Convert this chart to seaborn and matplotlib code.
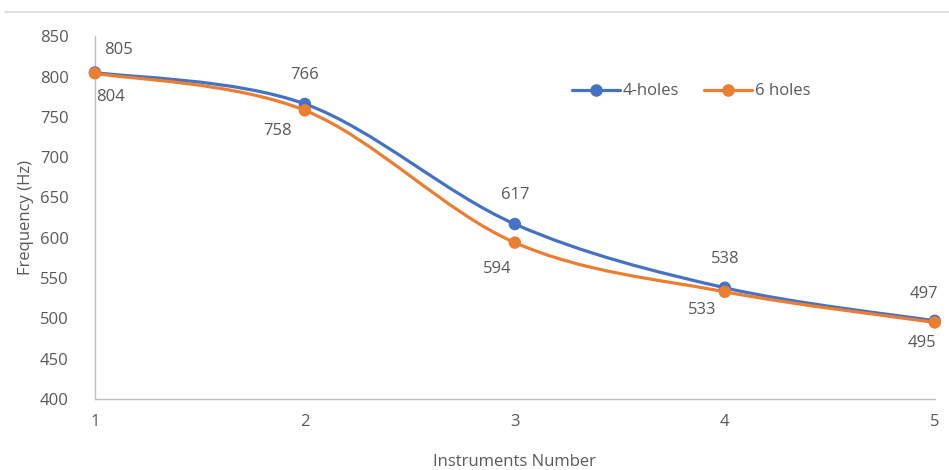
import numpy as np
import pandas as pd
import matplotlib.pyplot as plt
import seaborn as sns
from matplotlib.path import Path
from matplotlib.patches import PathPatch
from matplotlib.lines import Line2D

sns.set_style("white")
plt.rcParams['font.family'] = ['Open Sans', 'DejaVu Sans']

# Data
instruments = [1, 2, 3, 4, 5]
four_holes = [805, 766, 617, 538, 497]
six_holes = [804, 758, 594, 533, 495]

# label offsets (points) for each series
offsets_4 = [(17, 16), (0, 21), (0, 21), (0, 21), (-8, 19)]
offsets_6 = [(11, -17), (-20, -15), (-13, -19), (-16, -13), (-9, -15)]

data = pd.DataFrame({
    'Instrument': instruments * 2,
    'Frequency': four_holes + six_holes,
    'Series': ['4-holes'] * 5 + ['6 holes'] * 5,
})

blue = '#4472C4'
orange = '#ED7D31'
text_col = '#595959'
fs = 12

fig = plt.figure(figsize=(9.49, 4.70), dpi=100)
ax = fig.add_axes([0.100, 0.151, 0.885, 0.772])


def smooth_path(xs, ys):
    # Excel-style smoothed line: Catmull-Rom as cubic Bezier segments
    pts = np.column_stack([xs, ys]).astype(float)
    verts = [pts[0]]
    codes = [Path.MOVETO]
    n = len(pts)
    for i in range(n - 1):
        p0 = pts[i - 1] if i > 0 else pts[i]
        p1 = pts[i]
        p2 = pts[i + 1]
        p3 = pts[i + 2] if i + 2 < n else pts[i + 1]
        c1 = p1 + (p2 - p0) / 6.0
        c2 = p2 - (p3 - p1) / 6.0
        verts += [c1, c2, p2]
        codes += [Path.CURVE4] * 3
    return Path(verts, codes)


for name, vals, col in [('4-holes', four_holes, blue), ('6 holes', six_holes, orange)]:
    patch = PathPatch(smooth_path(instruments, vals), facecolor='none',
                      edgecolor=col, lw=2.3, zorder=2, capstyle='round')
    ax.add_patch(patch)

sns.scatterplot(data=data, x='Instrument', y='Frequency', hue='Series',
                palette=[blue, orange], s=80, edgecolor='none', ax=ax,
                legend=False, zorder=3, clip_on=False)

for vals, offs in [(four_holes, offsets_4), (six_holes, offsets_6)]:
    for x, v, (dx, dy) in zip(instruments, vals, offs):
        ax.annotate(str(v), (x, v), xytext=(dx, dy), textcoords='offset points',
                    ha='center', va='center', fontsize=fs, color=text_col)

ax.set_xlim(1, 5)
ax.set_ylim(400, 850)
ax.set_xticks(instruments)
ax.set_yticks(range(400, 851, 50))
ax.tick_params(axis='both', length=0, labelsize=fs, labelcolor=text_col)
ax.tick_params(axis='x', pad=11)
ax.tick_params(axis='y', pad=19)
for s in ['top', 'right']:
    ax.spines[s].set_visible(False)
for s in ['left', 'bottom']:
    ax.spines[s].set_color('#bfbfbf')
    ax.spines[s].set_linewidth(1.0)

ax.set_xlabel('Instruments Number', fontsize=fs, color=text_col, labelpad=17)
ax.set_ylabel('Frequency (Hz)', fontsize=fs, color=text_col, labelpad=4)

handles = [Line2D([], [], color=blue, lw=2.3, marker='o', ms=8),
           Line2D([], [], color=orange, lw=2.3, marker='o', ms=8)]
leg = ax.legend(handles, ['4-holes', '6 holes'], loc='center', bbox_to_anchor=(0.710, 0.848),
                ncol=2, frameon=False, fontsize=fs, handlelength=2.9,
                handletextpad=0.15, columnspacing=1.5)
for t in leg.get_texts():
    t.set_color(text_col)

fig.add_artist(Line2D([0.005, 1.0], [1 - 12 / 470, 1 - 12 / 470],
                      color='#d9d9d9', lw=1.2, transform=fig.transFigure))

fig.savefig('out.png', dpi=100)
